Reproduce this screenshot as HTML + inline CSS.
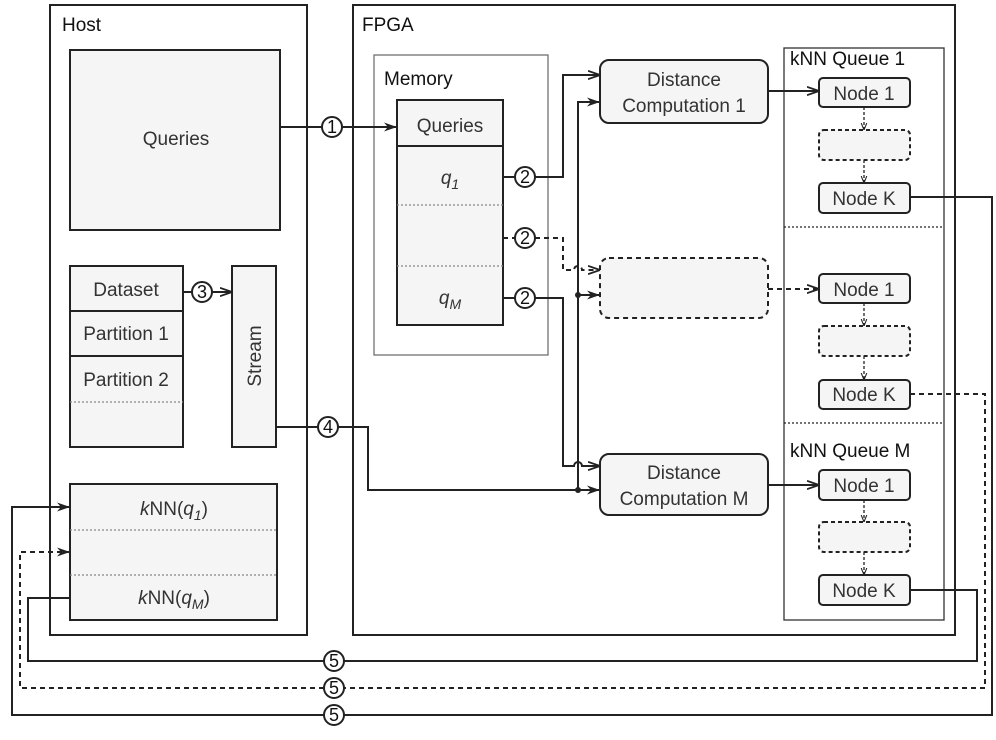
<!DOCTYPE html>
<html><head><meta charset="utf-8"><style>
html,body{margin:0;padding:0;background:#fff}
svg text{font-family:"Liberation Sans",Arial,sans-serif}
</style></head><body>
<svg width="996" height="735" viewBox="0 0 996 735" xmlns="http://www.w3.org/2000/svg">
<defs>
<marker id="a" viewBox="0 0 10 10" refX="10" refY="5" markerWidth="12" markerHeight="12" orient="auto" markerUnits="userSpaceOnUse"><path d="M0,1.5 L10,5 L0,8.5" fill="none" stroke="#222" stroke-width="1.5"/></marker>
<marker id="af" viewBox="0 0 10 10" refX="10" refY="5" markerWidth="13" markerHeight="13" orient="auto" markerUnits="userSpaceOnUse"><path d="M0,1.5 L10,5 L0,8.5 L3,5z" fill="#222"/></marker>
<marker id="as" viewBox="0 0 10 10" refX="10" refY="5" markerWidth="7" markerHeight="7" orient="auto" markerUnits="userSpaceOnUse"><path d="M0,1 L10,5 L0,9" fill="none" stroke="#222" stroke-width="1.5"/></marker>
</defs>
<g fill="none" stroke="#222" stroke-width="2">
<rect x="50" y="5" width="257" height="630"/>
<rect x="353" y="5" width="602" height="630"/>
<rect x="374" y="55" width="174" height="300" stroke="#666" stroke-width="1.2"/>
<rect x="784" y="48" width="160" height="572" stroke="#333" stroke-width="1.3"/>
<line x1="784" y1="227" x2="944" y2="227" stroke-width="1.2" stroke-dasharray="2,2"/>
<line x1="784" y1="423" x2="944" y2="423" stroke-width="1.2" stroke-dasharray="2,2"/>
<rect x="70" y="50" width="210" height="180" fill="#f5f5f5"/>
<rect x="70" y="266" width="113" height="181" fill="#f5f5f5"/>
<line x1="70" y1="311" x2="183" y2="311"/>
<line x1="70" y1="356" x2="183" y2="356"/>
<line x1="70" y1="402" x2="183" y2="402" stroke="#888" stroke-width="1.2" stroke-dasharray="2,2"/>
<rect x="232" y="266" width="44" height="181" fill="#f5f5f5"/>
<rect x="70" y="484" width="207" height="136" fill="#f5f5f5"/>
<line x1="70" y1="530" x2="277" y2="530" stroke="#888" stroke-width="1.2" stroke-dasharray="2,2"/>
<line x1="70" y1="575" x2="277" y2="575" stroke="#888" stroke-width="1.2" stroke-dasharray="2,2"/>
<rect x="397" y="100" width="106" height="225" fill="#f5f5f5"/>
<line x1="397" y1="146" x2="503" y2="146"/>
<line x1="397" y1="205" x2="503" y2="205" stroke="#888" stroke-width="1.2" stroke-dasharray="2,2"/>
<line x1="397" y1="266" x2="503" y2="266" stroke="#888" stroke-width="1.2" stroke-dasharray="2,2"/>
<rect x="600" y="60" width="168" height="63" rx="9" fill="#f5f5f5"/>
<rect x="600" y="258" width="168" height="60" rx="9" fill="#f5f5f5" stroke-dasharray="5,4"/>
<rect x="600" y="454" width="168" height="61" rx="9" fill="#f5f5f5"/>
<rect x="819" y="78" width="91" height="29" rx="4" fill="#f5f5f5"/>
<rect x="819" y="130" width="91" height="30" rx="5" fill="#f5f5f5" stroke-dasharray="4,3"/>
<rect x="819" y="183" width="91" height="30" rx="4" fill="#f5f5f5"/>
<rect x="819" y="274" width="91" height="29" rx="4" fill="#f5f5f5"/>
<rect x="819" y="326" width="91" height="30" rx="5" fill="#f5f5f5" stroke-dasharray="4,3"/>
<rect x="819" y="380" width="91" height="29" rx="4" fill="#f5f5f5"/>
<rect x="819" y="470" width="91" height="30" rx="4" fill="#f5f5f5"/>
<rect x="819" y="522" width="91" height="30" rx="5" fill="#f5f5f5" stroke-dasharray="4,3"/>
<rect x="819" y="575" width="91" height="30" rx="4" fill="#f5f5f5"/>
<g stroke-width="1.3" stroke-dasharray="3,2">
<line x1="864" y1="107" x2="864" y2="130" marker-end="url(#as)"/>
<line x1="864" y1="160" x2="864" y2="183" marker-end="url(#as)"/>
<line x1="864" y1="303" x2="864" y2="326" marker-end="url(#as)"/>
<line x1="864" y1="356" x2="864" y2="380" marker-end="url(#as)"/>
<line x1="864" y1="500" x2="864" y2="522" marker-end="url(#as)"/>
<line x1="864" y1="552" x2="864" y2="575" marker-end="url(#as)"/>
</g>
<line x1="280" y1="127" x2="323" y2="127"/>
<line x1="342" y1="127" x2="397" y2="127" marker-end="url(#af)"/>
<line x1="183" y1="292" x2="193" y2="292"/>
<line x1="212" y1="292" x2="232" y2="292" marker-end="url(#a)"/>
<line x1="276" y1="427" x2="318" y2="427"/>
<polyline points="338,427 368,427 368,490 600,490" marker-end="url(#af)"/>
<line x1="503" y1="177" x2="515" y2="177"/>
<polyline points="535,177 563,177 563,75 600,75" marker-end="url(#a)"/>
<line x1="503" y1="298" x2="515" y2="298"/>
<path d="M535,298 L563,298 L563,466 L574,466 A4,4 0 0 1 582,466 L600,466" marker-end="url(#a)"/>
<line x1="503" y1="238" x2="515" y2="238" stroke-dasharray="5,4"/>
<path d="M535,238 L563,238 L563,270 L574,270 A4,4 0 0 1 582,270 L600,270" stroke-dasharray="5,4" marker-end="url(#a)"/>
<polyline points="578,490 578,102 600,102" marker-end="url(#af)"/>
<line x1="578" y1="295" x2="600" y2="295" marker-end="url(#af)"/>
<line x1="768" y1="91" x2="819" y2="91" marker-end="url(#a)"/>
<line x1="768" y1="289" x2="819" y2="289" stroke-dasharray="5,4" marker-end="url(#a)"/>
<line x1="768" y1="485" x2="819" y2="485" marker-end="url(#a)"/>
<polyline points="910,197 992,197 992,715 344,715"/>
<polyline points="324,715 12,715 12,507 70,507" marker-end="url(#af)"/>
<polyline points="910,394 985,394 985,688 344,688" stroke-dasharray="5,4"/>
<polyline points="324,688 20,688 20,552 70,552" stroke-dasharray="5,4" marker-end="url(#af)"/>
<polyline points="910,590 977,590 977,661 344,661"/>
<polyline points="324,661 28,661 28,598 70,598"/>
<g fill="#fff">
<circle cx="332" cy="127" r="10"/>
<circle cx="202" cy="292" r="10"/>
<circle cx="328" cy="427" r="10"/>
<circle cx="525" cy="177" r="10"/>
<circle cx="525" cy="238" r="10"/>
<circle cx="525" cy="298" r="10"/>
<circle cx="334" cy="661" r="10"/>
<circle cx="334" cy="688" r="10"/>
<circle cx="334" cy="715" r="10"/>
</g>
</g>
<g fill="#222"><circle cx="578" cy="490" r="3"/><circle cx="578" cy="295" r="3"/></g>
<g font-size="18" text-anchor="middle" fill="#111">
<text x="332" y="133">1</text><text x="202" y="298">3</text><text x="328" y="433">4</text>
<text x="525" y="183">2</text><text x="525" y="244">2</text><text x="525" y="304">2</text>
<text x="334" y="667">5</text><text x="334" y="694">5</text><text x="334" y="721">5</text>
</g>
<g font-size="19" fill="#111">
<text x="62" y="31">Host</text>
<text x="362" y="31">FPGA</text>
<text x="384" y="85">Memory</text>
<text x="790" y="65">kNN Queue 1</text>
<text x="790" y="457">kNN Queue M</text>
</g>
<g font-size="19" fill="#333" text-anchor="middle">
<text x="176" y="145">Queries</text>
<text x="450" y="132">Queries</text>
<text x="450" y="184" font-style="italic">q<tspan font-size="14" dy="5">1</tspan></text>
<text x="450" y="304" font-style="italic">q<tspan font-size="14" dy="5">M</tspan></text>
<text x="126" y="296">Dataset</text>
<text x="126" y="340">Partition 1</text>
<text x="126" y="386">Partition 2</text>
<text transform="translate(261,356) rotate(-90)">Stream</text>
<text x="174" y="515"><tspan font-style="italic">k</tspan>NN(<tspan font-style="italic">q</tspan><tspan font-size="14" dy="5" font-style="italic">1</tspan><tspan dy="-5">)</tspan></text>
<text x="174" y="604"><tspan font-style="italic">k</tspan>NN(<tspan font-style="italic">q</tspan><tspan font-size="14" dy="5" font-style="italic">M</tspan><tspan dy="-5">)</tspan></text>
<text x="684" y="86">Distance</text>
<text x="684" y="112">Computation 1</text>
<text x="684" y="479">Distance</text>
<text x="684" y="505">Computation M</text>
<text x="864" y="100">Node 1</text>
<text x="864" y="205">Node K</text>
<text x="864" y="296">Node 1</text>
<text x="864" y="401">Node K</text>
<text x="864" y="492">Node 1</text>
<text x="864" y="597">Node K</text>
</g>
</svg>
</body></html>
